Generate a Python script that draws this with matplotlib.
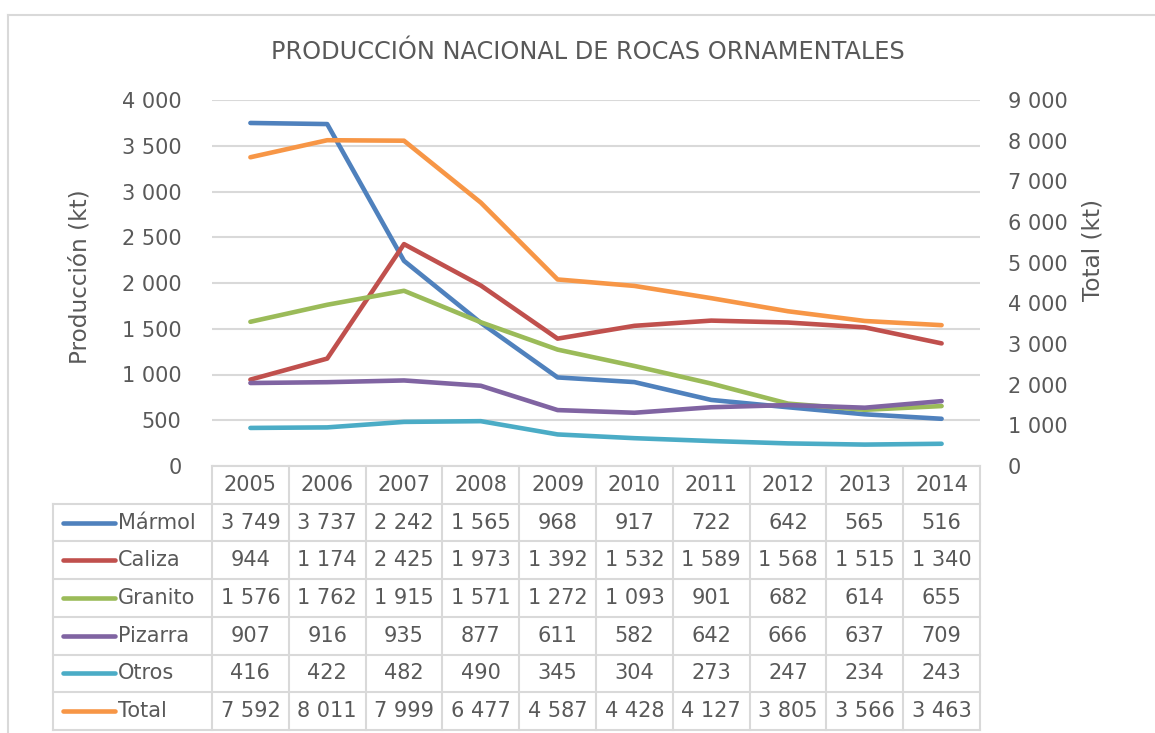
import numpy as np
import matplotlib.pyplot as plt
from matplotlib.lines import Line2D

# DATOS
anios = ["2005", "2006", "2007", "2008", "2009", "2010", "2011", "2012", "2013", "2014"]
marmol = [3749, 3737, 2242, 1565, 968, 917, 722, 642, 565, 516]
caliza = [944, 1174, 2425, 1973, 1392, 1532, 1589, 1568, 1515, 1340]
granito = [1576, 1762, 1915, 1571, 1272, 1093, 901, 682, 614, 655]
pizarra = [907, 916, 935, 877, 611, 582, 642, 666, 637, 709]
otros = [416, 422, 482, 490, 345, 304, 273, 247, 234, 243]
total = [7592, 8011, 7999, 6477, 4587, 4428, 4127, 3805, 3566, 3463]

nombres = ["Mármol", "Caliza", "Granito", "Pizarra", "Otros", "Total"]
series = [marmol, caliza, granito, pizarra, otros, total]
colores = ["#4F81BD", "#C0504D", "#9BBB59", "#8064A2", "#4BACC6", "#F79646"]

gris = "#595959"
gris_linea = "#D9D9D9"
W, H = 1155, 733


def fmt(v):
    return f"{v:,}".replace(",", " ")


fig = plt.figure(figsize=(W / 100, H / 100), dpi=100)

# MARCO DEL GRÁFICO
fig.add_artist(Line2D([8 / W, 8 / W], [0, 1 - 15 / H], color=gris_linea, lw=1.5))
fig.add_artist(Line2D([8 / W, 1], [1 - 15 / H, 1 - 15 / H], color=gris_linea, lw=1.5))

# EJES PRINCIPALES
ax = fig.add_axes([212 / W, 1 - 466 / H, (980 - 212) / W, (466 - 100) / H])
ax2 = ax.twinx()
x = np.arange(len(anios))

for nombre, datos, c in zip(nombres[:-1], series[:-1], colores[:-1]):
    ax.plot(x, datos, color=c, lw=3.3, solid_capstyle="round", zorder=3)
ax2.plot(x, total, color=colores[-1], lw=3.3, solid_capstyle="round")

ax.set_xlim(-0.5, len(anios) - 0.5)
ax.set_ylim(0, 4000)
ax2.set_ylim(0, 9000)
ax.set_yticks(np.arange(0, 4001, 500))
ax2.set_yticks(np.arange(0, 9001, 1000))
ax.set_yticklabels([fmt(v) for v in range(0, 4001, 500)])
ax2.set_yticklabels([fmt(v) for v in range(0, 9001, 1000)])
ax.set_xticks([])
ax.grid(axis="y", color=gris_linea, lw=1.5)
ax.set_axisbelow(True)
for a in (ax, ax2):
    for s in a.spines.values():
        s.set_visible(False)
    a.tick_params(axis="y", length=0, labelsize=15, labelcolor=gris)
ax.tick_params(axis="y", pad=22)
ax2.tick_params(axis="y", pad=20)

fig.text(588 / W, 1 - 52 / H, "PRODUCCIÓN NACIONAL DE ROCAS ORNAMENTALES",
         ha="center", va="center", fontsize=17.3, color=gris)
fig.text(80 / W, 1 - 277 / H, "Producción (kt)", rotation=90,
         ha="center", va="center", fontsize=16.7, color=gris)
fig.text(1093 / W, 1 - 250 / H, "Total (kt)", rotation=90,
         ha="center", va="center", fontsize=16.7, color=gris)

# TABLA DE DATOS
izq = -0.5 - (212 - 53) / 76.8
tb = fig.add_axes([53 / W, 1 - 730 / H, (980 - 53) / W, (730 - 466) / H])
tb.set_xlim(izq, len(anios) - 0.5)
tb.set_ylim(len(nombres) + 1, 0)
tb.axis("off")

lk = dict(color=gris_linea, lw=1.5, clip_on=False)
tb.plot([-0.5, len(anios) - 0.5], [0, 0], **lk)
for k in range(1, len(nombres) + 2):
    tb.plot([izq, len(anios) - 0.5], [k, k], **lk)
for k in range(len(anios) + 1):
    tb.plot([k - 0.5, k - 0.5], [0, len(nombres) + 1], **lk)
tb.plot([izq, izq], [1, len(nombres) + 1], **lk)

for i, a in enumerate(anios):
    tb.text(i, 0.5, a, ha="center", va="center", fontsize=15, color=gris)

for j, (nombre, datos, c) in enumerate(zip(nombres, series, colores)):
    yc = j + 1.5
    tb.plot([izq + 0.13, izq + 0.81], [yc, yc], color=c, lw=3.3, solid_capstyle="round")
    tb.text(izq + 0.84, yc, nombre, ha="left", va="center", fontsize=15, color=gris)
    for i, v in enumerate(datos):
        tb.text(i, yc, fmt(v), ha="center", va="center", fontsize=15, color=gris)

plt.savefig("out.png", dpi=100)
